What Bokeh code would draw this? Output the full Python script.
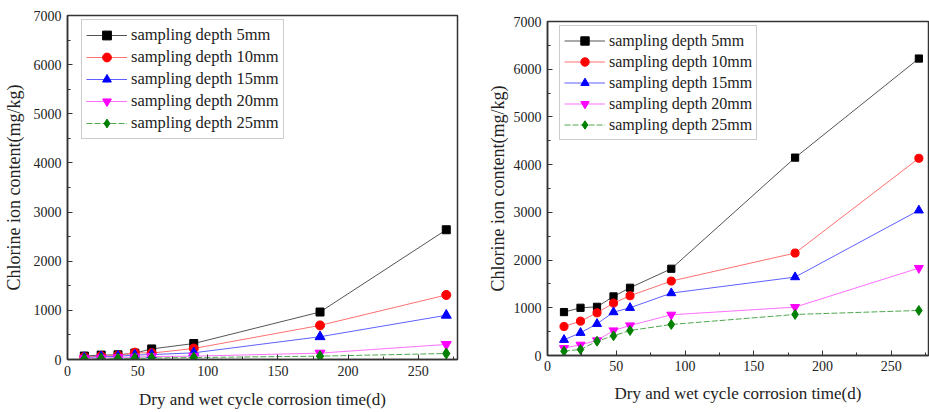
from bokeh.plotting import figure
from bokeh.layouts import row
from bokeh.models import Legend, LegendItem, FixedTicker
from bokeh.embed import file_html
from bokeh.resources import INLINE

days = [12, 24, 36, 48, 60, 90, 180, 270]
labels = ["sampling depth 5mm", "sampling depth 10mm", "sampling depth 15mm",
          "sampling depth 20mm", "sampling depth 25mm"]

# left panel
left_5 = [70, 90, 95, 130, 215, 325, 966, 2640]
left_10 = [50, 70, 80, 140, 130, 224, 694, 1313]
left_15 = [40, 55, 65, 90, 100, 136, 463, 900]
left_20 = [20, 30, 40, 50, 60, 68, 130, 306]
left_25 = [10, 15, 20, 25, 30, 40, 68, 122]

# right panel
right_5 = [910, 1000, 1020, 1238, 1420, 1818, 4147, 6224]
right_10 = [608, 720, 895, 1098, 1252, 1560, 2147, 4133]
right_15 = [329, 476, 664, 909, 1000, 1308, 1643, 3042]
right_20 = [154, 224, 315, 524, 629, 853, 1014, 1832]
right_25 = [91, 126, 300, 413, 524, 650, 860, 944]

x_ticks = [0, 50, 100, 150, 200, 250]
y_ticks = [0, 1000, 2000, 3000, 4000, 5000, 6000, 7000]

FONT = "Liberation Serif"
line_colors = ["#555555", "#ff7070", "#6060ff", "#ff70ff", "#50a850"]
mark_colors = ["#000000", "#ff0000", "#0000ff", "#ff00ff", "#008000"]
markers = ["square", "circle", "triangle", "inverted_triangle", "diamond"]
msizes = [8, 9, 10, 10, 11]


def make(series, w, h, x_end, bl, bt, br, bb, frame_h, leg_x, leg_row, leg_font,
         scale, xtick_so, xlab_so, ytick_so, ylab_so):
    p = figure(width=w, height=h, output_backend="svg",
               toolbar_location=None, x_range=(0, x_end), y_range=(0, 7000),
               min_border_left=bl, min_border_top=bt, min_border_right=br,
               min_border_bottom=bb)
    p.frame_align = False
    p.grid.visible = False
    p.outline_line_color = "#333333"
    p.outline_line_width = 1.5
    p.background_fill_color = "white"
    p.border_fill_color = "white"
    items = []
    for i, ys in enumerate(series):
        kw = {}
        if i == 4:
            kw["line_dash"] = "6 2"
        r1 = p.line(days, ys, line_color=line_colors[i], line_width=1, **kw)
        r2 = p.scatter(days, ys, marker=markers[i], size=msizes[i] * scale,
                       fill_color=mark_colors[i], line_color=mark_colors[i])
        items.append(LegendItem(label=labels[i], renderers=[r1, r2]))
    for ax in (p.xaxis[0], p.yaxis[0]):
        ax.axis_line_color = "#333333"
        ax.axis_line_width = 1.5
        ax.major_tick_in = 5
        ax.major_tick_out = 0
        ax.minor_tick_in = 3
        ax.minor_tick_out = 0
        ax.major_tick_line_color = "#333333"
        ax.minor_tick_line_color = "#333333"
        ax.major_label_text_font = FONT
        ax.major_label_text_font_size = "14px"
        ax.major_label_text_color = "#222222"
        ax.axis_label_text_font = FONT
        ax.axis_label_text_font_style = "normal"
        ax.axis_label_text_color = "#222222"
    p.xaxis[0].major_label_standoff = xtick_so
    p.yaxis[0].major_label_standoff = ytick_so
    p.xaxis[0].axis_label_text_font_size = "17px"
    p.yaxis[0].axis_label_text_font_size = "18px"
    p.xaxis[0].ticker = FixedTicker(ticks=x_ticks, minor_ticks=list(range(0, 276, 25)))
    p.yaxis[0].ticker = FixedTicker(ticks=y_ticks, minor_ticks=list(range(0, 7001, 500)))
    p.xaxis[0].axis_label = "Dry and wet cycle corrosion time(d)"
    p.yaxis[0].axis_label = "Chlorine ion content(mg/kg)"
    p.xaxis[0].axis_label_standoff = xlab_so
    p.yaxis[0].axis_label_standoff = ylab_so
    pad = 4
    leg_h = 5 * leg_row + 2 * pad
    leg = Legend(items=items, location=(leg_x, frame_h - 6 - leg_h))
    leg.label_text_font = FONT
    leg.label_text_font_size = leg_font
    leg.label_text_color = "#222222"
    leg.glyph_width = 41
    leg.glyph_height = leg_row
    leg.label_height = leg_row
    leg.spacing = 0
    leg.padding = pad
    leg.margin = 0
    leg.label_standoff = 4
    leg.border_line_color = "#999999"
    leg.border_line_width = 1.5
    leg.background_fill_color = "white"
    leg.background_fill_alpha = 1
    p.add_layout(leg, "center")
    return p


p1 = make([left_5, left_10, left_15, left_20, left_25], 470, 412, 278,
          63, 15, 13, 53, 344, 14, 22, "16.5px", 1.0, 6, 11, 6, 7)
p2 = make([right_5, right_10, right_15, right_20, right_25], 459, 412, 277,
          77, 21, 1, 57, 334, 12, 21, "16px", 0.9, 5, 10, 6, 3)

layout = row(p1, p2, spacing=0)
open("out.html", "w").write(file_html(layout, INLINE))
